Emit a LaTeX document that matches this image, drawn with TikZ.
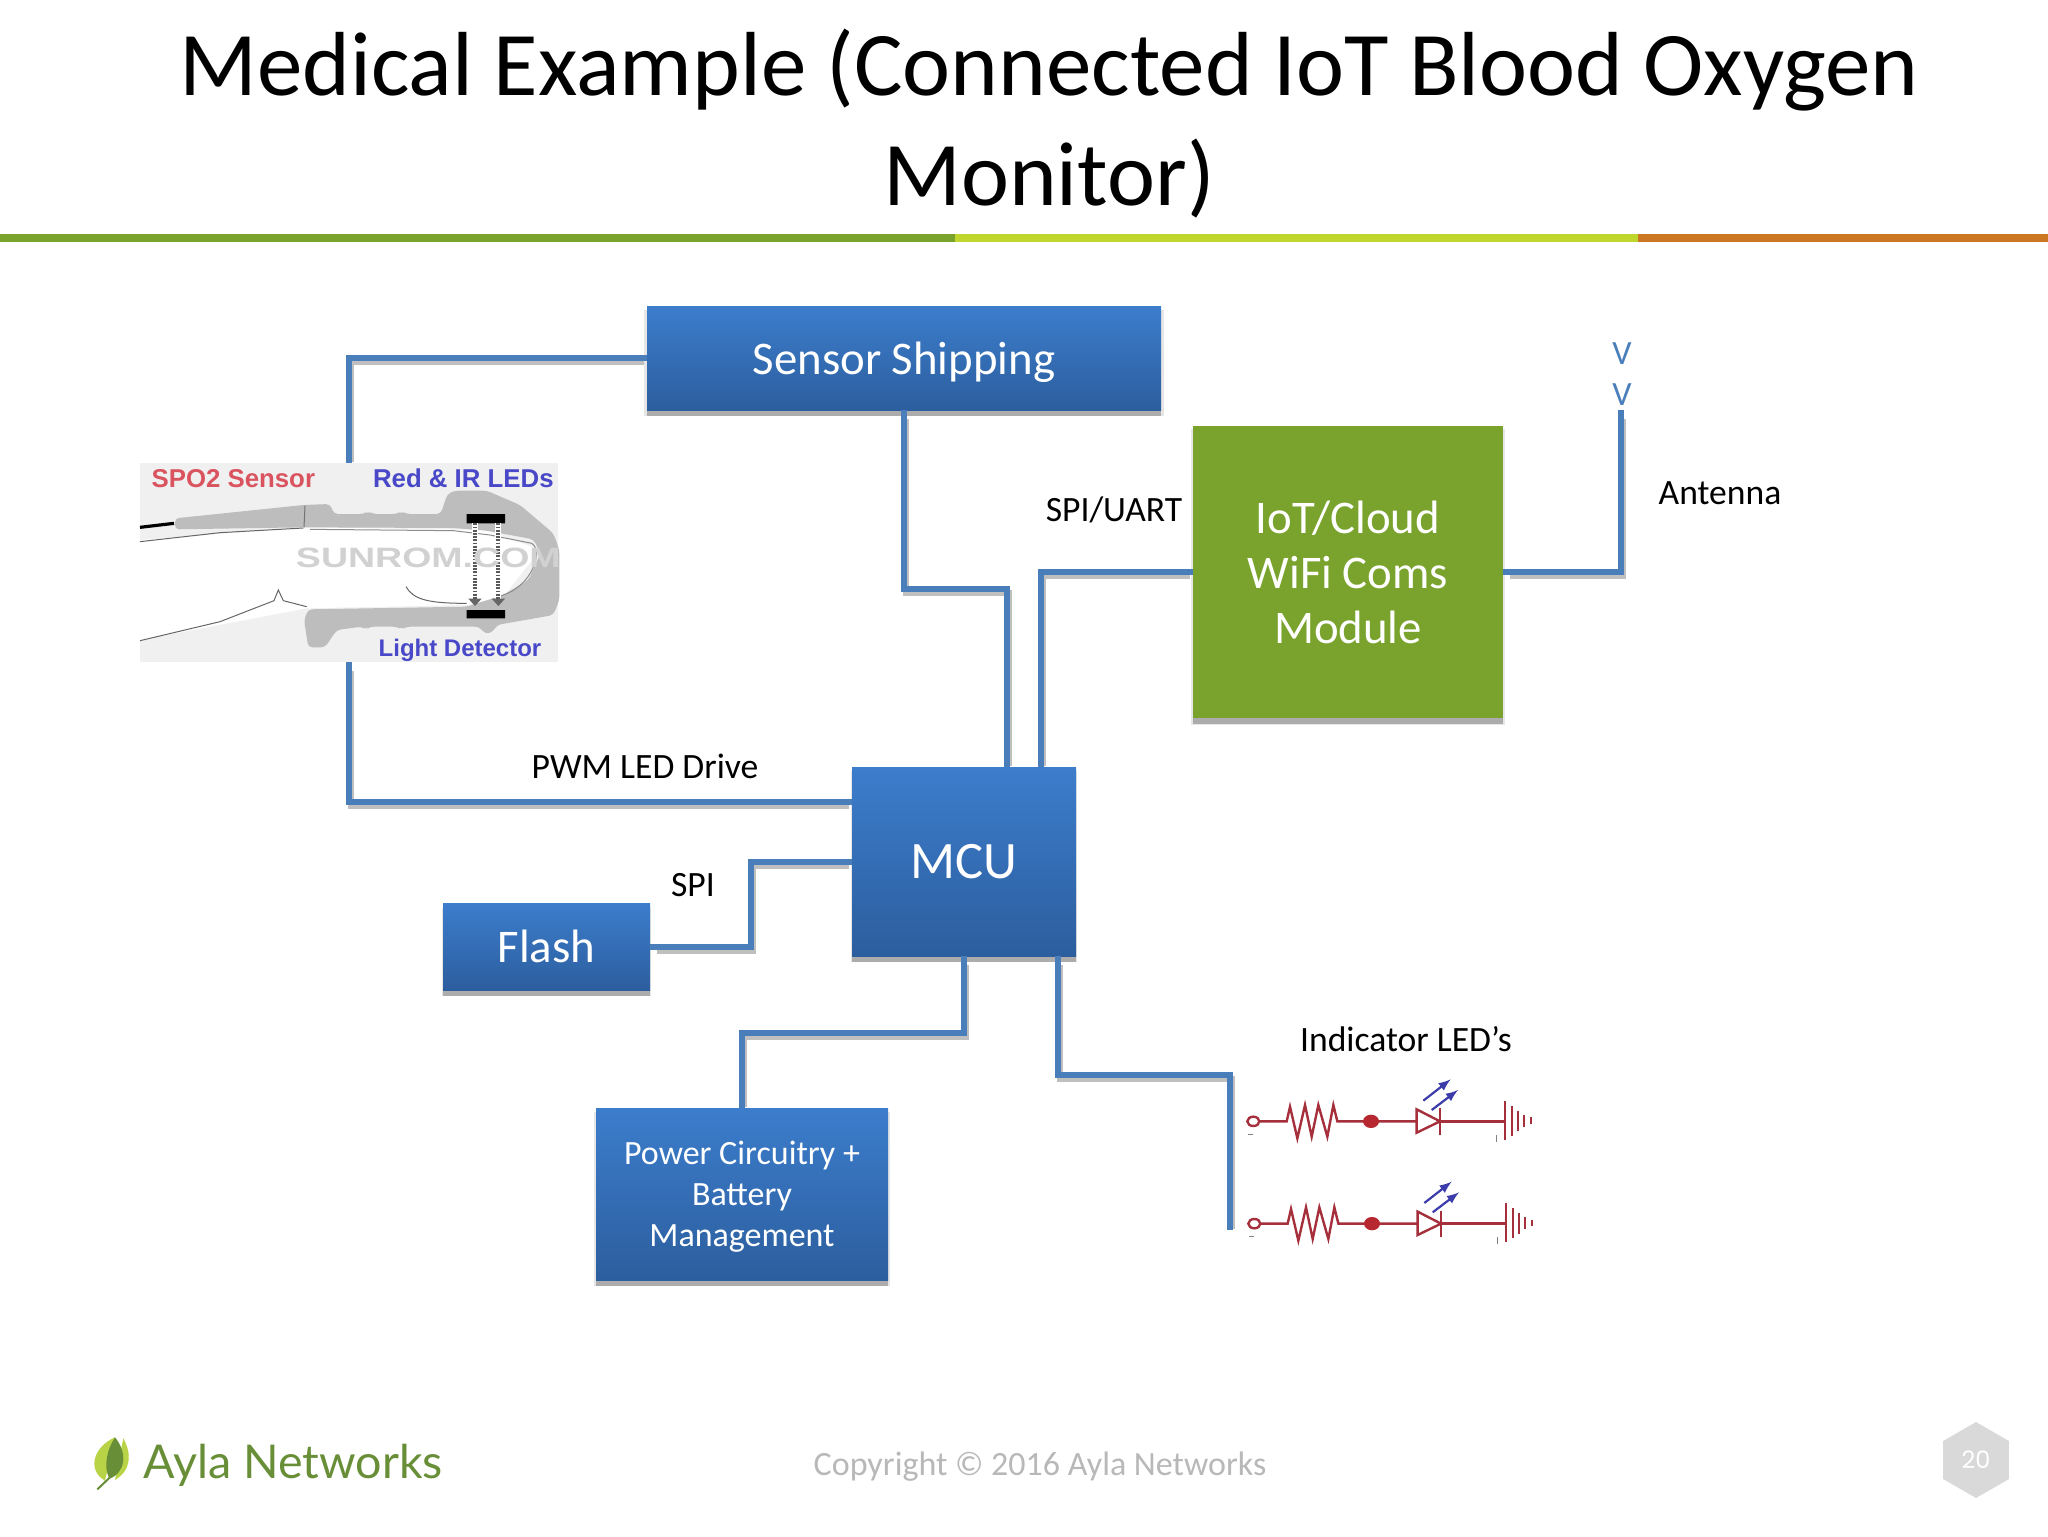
\documentclass[tikz,border=0pt]{standalone}
\usepackage{fontspec}
\setmainfont{Carlito}
\newfontfamily\ProbeFont{Liberation Sans}
\newfontfamily\LogoFont{Lato}
\newfontfamily\PageFont{Poppins}
\usetikzlibrary{shapes.geometric,shadows,positioning,calc}
\definecolor{BoxTop}{RGB}{60,125,204}
\definecolor{BoxBottom}{RGB}{44,94,158}
\definecolor{WireColor}{RGB}{74,126,187}
\definecolor{CloudColor}{RGB}{122,163,46}
\definecolor{RuleLime}{RGB}{191,214,45}
\definecolor{RuleOrange}{RGB}{204,119,34}
\definecolor{CircuitRed}{RGB}{165,48,60}
\definecolor{ArrowBlue}{RGB}{60,60,170}
\definecolor{ProbeRed}{RGB}{218,84,96}
\definecolor{ProbeBlue}{RGB}{72,72,200}
\definecolor{LogoGreen}{RGB}{104,142,56}
\definecolor{LeafLime}{RGB}{184,212,70}

\begin{document}
\begin{tikzpicture}[x=0.5pt,y=-0.5pt,
    box/.style={draw=none, inner sep=0pt, align=center, text=white, text depth=0pt,
        font=\fontsize{23.4}{27.5}\selectfont,
        drop shadow={shadow xshift=0pt, shadow yshift=-2.5pt, shadow scale=1.012, fill=black!12, opacity=.8},
        drop shadow={shadow xshift=0pt, shadow yshift=-3pt, fill=black!35, opacity=.9}},
    bluebox/.style={box, top color=BoxTop, bottom color=BoxBottom},
    wire/.style={draw=WireColor, line width=3pt,
        preaction={draw=black!25, line width=3pt, shorten >=2.5pt, shorten <=2.5pt,
            transform canvas={xshift=1pt,yshift=-2pt}}},
    label/.style={font=\fontsize{17.8}{21}\selectfont, inner sep=0pt},
    probetext/.style={font=\ProbeFont\bfseries\fontsize{12.9}{15}\selectfont, inner sep=0pt},
    circuit/.style={draw=CircuitRed, line width=1.2pt}]

    \useasboundingbox (0,0) rectangle (2048,1536);

    % heading
    \node[font=\fontsize{45.5}{55}\selectfont, align=center, inner sep=0pt] (Title) at (1049,124)
        {Medical Example (Connected IoT Blood Oxygen\\Monitor)};
    \foreach \from/\to/\col in {0/955/CloudColor, 955/1638/RuleLime, 1638/2048/RuleOrange}
        \fill[\col] (\from,234) rectangle (\to,242);

    % blocks
    \node[bluebox, minimum width=257pt, minimum height=52pt] (Shipping) at (904,358) {Sensor Shipping};
    \node[bluebox, minimum width=112pt, minimum height=94.5pt, font=\fontsize{26.3}{30}\selectfont] (Mcu) at (964,861.5) {MCU};
    \node[box, fill=CloudColor, minimum width=155pt, minimum height=146pt] (Cloud) at (1348,572) {IoT/Cloud\\WiFi Coms\\Module};
    \node[bluebox, minimum width=103.5pt, minimum height=43.5pt] (FlashChip) at (546.5,946.5) {Flash};
    \node[bluebox, minimum width=146pt, minimum height=86pt, font=\fontsize{17}{20.5}\selectfont] (PowerBox) at (742,1194)
        {Power Circuitry +\\Battery\\Management};
    \node[fill=black!6, minimum width=209pt, minimum height=99.5pt, inner sep=0pt] (Probe) at (349,562.5) {};

    % finger probe
    \begin{scope}[shift={(120,440)},x=0.16667pt,y=-0.16667pt]
        \fill[white] (60,300) -- (550,262) -- (1100,270) -- (1260,330) -- (1150,470) -- (1040,495)
            -- (560,505) -- (60,600) -- cycle;
        \fill[black!26, rounded corners=2pt] (165,235) -- (550,195) -- (630,192) -- (642,222) -- (730,222) -- (745,214)
            -- (760,222) -- (830,222) -- (845,214) -- (860,222) -- (962,222) -- (982,162) -- (1005,152)
            -- (1100,152) -- (1200,195) -- (1300,280) -- (1318,330) -- (1318,480) -- (1300,525) -- (1130,555)
            -- (1120,575) -- (1095,582) -- (1078,560) -- (860,560) -- (845,568) -- (830,560) -- (750,560)
            -- (738,568) -- (725,560) -- (650,570) -- (615,622) -- (565,622) -- (552,540) -- (565,508)
            -- (1040,500) -- (1150,465) -- (1225,420) -- (1262,340) -- (1240,298) -- (1100,272)
            -- (1000,264) -- (550,262) -- (165,268) -- cycle;
        \draw[black!55, line width=.5pt] (555,197) -- (552,262);
        \draw[black, line width=1.6pt] (60,262) -- (162,250);
        \draw[black!60, line width=.5pt] (60,305) -- (300,278) -- (550,264) (60,602) -- (300,545) -- (462,482)
            -- (475,450) -- (490,482) -- (560,500) (858,440) .. controls (880,480) and (930,490) .. (1040,490);
        \draw[black!45, line width=.5pt] (570,268) -- (1000,272) -- (1110,285) -- (1235,310)
            .. controls (1270,330) and (1240,440) .. (1140,468);
        \fill[black] (1040,222) rectangle (1155,250) (1040,510) rectangle (1155,535);
        \foreach \ray in {1065,1135} {
            \draw[white, line width=3pt] (\ray,250) -- (\ray,480);
            \draw[black!65, line width=2pt, dash pattern=on .9pt off .7pt] (\ray,250) -- (\ray,485);
            \fill[black!60] (\ray-20,476) -- (\ray+20,476) -- (\ray,498) -- cycle;
        }
        \node[text=black!18, font=\ProbeFont\bfseries\fontsize{14}{16}\selectfont, inner sep=0pt] (Mark) at (925,355)
            {\scalebox{1.34}[1]{SUNROM.COM}};
        \node[probetext, text=ProbeRed] (SpoText) at (340,115) {SPO2 Sensor};
        \node[probetext, text=ProbeBlue] (LedText) at (1030,115) {Red \& IR LEDs};
        \node[probetext, text=ProbeBlue, font=\ProbeFont\bfseries\fontsize{12}{15}\selectfont] (DetectText) at (1020,632) {Light Detector};
    \end{scope}

    % indicator circuits
    \foreach \shiftx/\shifty/\num in {0/0/1, 1/102.3/2} {
    \begin{scope}[shift={(1220+\shiftx,1060+\shifty)},x=0.16667pt,y=-0.16667pt]
        \draw[circuit] (100,184) ellipse (18 and 14);
        \draw[circuit] (118,184) -- (200,184) -- (210,140) -- (232,235) -- (255,135) -- (275,230) -- (295,135)
            -- (322,230) -- (340,135) -- (352,184) -- (590,184);
        \fill[CircuitRed!80!red] (453,184) ellipse (24 and 20);
        \draw[circuit] (590,148) -- (660,184) -- (590,218) -- cycle;
        \draw[circuit] (660,145) -- (660,225) (660,184) -- (855,184);
        \draw[circuit] (855,122) -- (855,240) (875,138) -- (875,228) (893,152) -- (893,214) (912,165) -- (912,200)
            (932,172) -- (932,192);
        \draw[black!50, line width=.5pt] (85,222) -- (100,222) (828,225) -- (828,245);
        \draw[ArrowBlue, line width=1.1pt, -latex] (610,122) -- (692,58);
        \draw[ArrowBlue, line width=1.1pt, -latex] (635,150) -- (714,90);
    \end{scope}
    }

    % junction points
    \coordinate (McuDrive) at (852,802);
    \coordinate (ShipBend) at (1007,589);
    \coordinate (CloudPort) at (1041,767);
    \coordinate (AntennaTip) at (1621,410);
    \coordinate (SpiBend) at (751,905);
    \coordinate (PowerBend) at (853,1033);
    \coordinate (McuLed) at (1058,956);
    \coordinate (LedCorner) at (1230,1075);
    \coordinate (LedEnd) at (1230,1230);

    \draw[wire] (Shipping.west) -| (Probe.north);
    \draw[wire] (Probe.south) |- (McuDrive);
    \draw[wire] (Shipping.south) |- (ShipBend) -- (ShipBend |- Mcu.north);
    \draw[wire] (Cloud.west) -| (CloudPort);
    \draw[wire] (Cloud.east) -| (AntennaTip);
    \draw[wire] (FlashChip.east) -| (SpiBend) |- (Mcu.west);
    \draw[wire] (Mcu.south) |- (PowerBend) -| (PowerBox.north);
    \draw[wire] (McuLed) |- (LedCorner) -- (LedEnd);

    % labels
    \foreach \name/\where/\txt in {
        DriveLabel/{645,766}/PWM LED Drive, SpiLabel/{693,885}/SPI, UartLabel/{1114,510}/SPI\slash UART,
        AntennaLabel/{1720,493}/Antenna, LedLabel/{1406,1039}/Indicator LED’s}
    \node[label] (\name) at (\where) {\txt};
    \foreach \name/\ypos in {VeeTop/354, VeeLow/395}
    \node[label, text=WireColor, font=\fontsize{17}{20}\selectfont] (\name) at (1622,\ypos) {V};

    % footer
    \begin{scope}[shift={(60,1400)},x=0.16667pt,y=-0.16667pt]
        \fill[LeafLime] (190,115) .. controls (215,160) and (215,210) .. (165,240) -- cycle;
        \fill[LeafLime] (165,112) .. controls (100,140) and (80,210) .. (135,242) -- cycle;
        \fill[LogoGreen] (165,112) .. controls (205,160) and (195,220) .. (148,236)
            .. controls (130,200) and (140,150) .. (165,112) -- cycle;
        \draw[LogoGreen, line width=1pt] (112,268) -- (150,232);
        \node[font=\LogoFont\fontsize{23.3}{26}\selectfont, text=LogoGreen, inner sep=0pt, anchor=base west] (Logo) at (250,235) {Ayla Networks};
    \end{scope}
    \node[label, font=\fontsize{17}{20}\selectfont, text=black!28] (Footer) at (1040,1467) {Copyright © 2016 Ayla Networks};
    \node[regular polygon, regular polygon sides=6, shape border rotate=30, fill=black!15, minimum size=38pt, inner sep=0pt,
        text=white, font=\PageFont\fontsize{12}{14}\selectfont] (PageNo) at (1976,1460) {20};
\end{tikzpicture}
\end{document}
